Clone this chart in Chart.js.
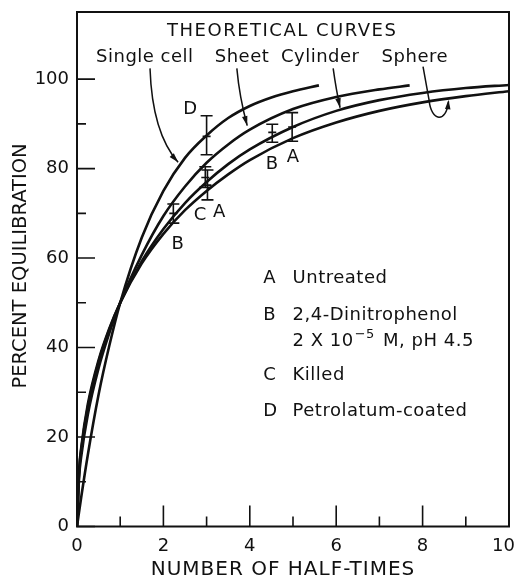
<!DOCTYPE html>
<html>
<head>
<meta charset="utf-8">
<script src="https://cdn.jsdelivr.net/npm/chart.js@4"></script>
<style>
  html, body { margin: 0; padding: 0; background: #fff; }
  canvas { display: block; }
</style>
</head>
<body>
<canvas id="chart" width="516" height="578"></canvas>
<script>
// theoretical curves (x = number of half-times, y = percent)
const singleCellT = [0, 0.1, 0.25, 0.5, 0.75, 1, 1.5, 2, 2.5, 3, 3.5, 4, 4.5, 5, 5.6];
const singleCellPct = [0, 6.7, 16, 29.5, 40.5, 50, 64.6, 75, 82.4, 87.4, 91.3, 94, 95.9, 97.3, 98.6];

const sheetT = [0, 0.05, 0.1, 0.25, 0.5, 0.75, 1, 1.5, 2, 2.5, 3, 3.5, 4, 5, 6, 7, 7.7];
const sheetPct = [0, 11.2, 15.8, 25, 35.4, 43.3, 50, 60.7, 69.4, 76, 81.3, 85.4, 88.7, 93.3, 96, 97.7, 98.6];

const cylinderT = [0, 0.05, 0.1, 0.25, 0.5, 0.75, 1, 1.5, 2, 2.5, 3, 3.5, 4, 5, 6, 7, 8, 9, 10];
const cylinderPct = [0, 12.4, 17.3, 26.7, 36.8, 44.1, 50, 59.3, 66.5, 72.3, 77, 81, 84.3, 89.3, 92.9, 95.3, 96.9, 98, 98.7];

const sphereT = [0, 0.05, 0.1, 0.25, 0.5, 0.75, 1, 1.5, 2, 2.5, 3, 3.5, 4, 5, 6, 7, 8, 9, 10];
const spherePct = [0, 12.8, 17.8, 27.3, 37.2, 44.3, 50, 58.8, 65.4, 70.7, 75, 78.7, 81.9, 86.8, 90.3, 92.9, 94.8, 96.2, 97.3];

// measured points with error bars
const errTag = ["D", "C", "A", "B", "B", "A"];
const errX = [3.0, 2.97, 3.02, 2.23, 4.52, 4.98];
const errMid = [87.2, 78.0, 76.3, 70.0, 88.1, 89.3];
const errLow = [83.1, 75.8, 73.0, 67.8, 85.9, 86.1];
const errHigh = [91.8, 80.4, 79.7, 72.1, 89.9, 92.5];

// axis ticks
const xTicks = [0, 2, 4, 6, 8, 10];
const xMinorTicks = [1, 3, 5, 7, 9];
const yTicks = [0, 20, 40, 60, 80, 100];
const yMinorTicks = [10, 30, 50, 70, 90];

const FONT = "'DejaVu Sans', sans-serif";
const INK = "#111";

const toPoints = (xs, ys) => xs.map((x, i) => ({ x: x, y: ys[i] }));

function curve(label, xs, ys) {
    return {
        label: label,
        data: toPoints(xs, ys),
        showLine: true,
        borderColor: INK,
        borderWidth: 2.6,
        pointRadius: 0,
        cubicInterpolationMode: "monotone"
    };
}

// where the letters sit, in data units
const tagPos = [[2.62, 93.2], [2.85, 69.6], [3.29, 70.3], [2.33, 63.1], [4.51, 81.0], [5.0, 82.6]];

const figurePlugin = {
    id: "figure",
    afterDatasetsDraw(chart) {
        const ctx = chart.ctx;
        const xs = chart.scales.x;
        const ys = chart.scales.y;
        const area = chart.chartArea;
        const px = (x) => xs.getPixelForValue(x);
        const py = (y) => ys.getPixelForValue(y);

        ctx.save();
        ctx.strokeStyle = INK;
        ctx.fillStyle = INK;

        // frame
        ctx.lineWidth = 2;
        ctx.strokeRect(area.left, area.top, area.right - area.left, area.bottom - area.top);

        // inward ticks
        ctx.lineWidth = 1.6;
        ctx.beginPath();
        yTicks.forEach(v => { ctx.moveTo(area.left, py(v)); ctx.lineTo(area.left + 18, py(v)); });
        yMinorTicks.forEach(v => { ctx.moveTo(area.left, py(v)); ctx.lineTo(area.left + 9, py(v)); });
        xTicks.forEach(v => { ctx.moveTo(px(v), area.bottom); ctx.lineTo(px(v), area.bottom - 21); });
        xMinorTicks.forEach(v => { ctx.moveTo(px(v), area.bottom); ctx.lineTo(px(v), area.bottom - 10); });
        ctx.stroke();

        // x tick labels (the last one is pulled in to stay on the canvas)
        ctx.font = "18px " + FONT;
        ctx.textAlign = "center";
        ctx.textBaseline = "middle";
        xTicks.forEach(v => {
            const s = String(v);
            const half = ctx.measureText(s).width / 2;
            ctx.fillText(s, Math.min(px(v), chart.width - 1 - half), area.bottom + 20);
        });

        // error bars
        ctx.lineWidth = 1.6;
        errX.forEach((x, i) => {
            const cx = px(x);
            ctx.beginPath();
            ctx.moveTo(cx, py(errLow[i])); ctx.lineTo(cx, py(errHigh[i]));
            ctx.moveTo(cx - 6, py(errLow[i])); ctx.lineTo(cx + 6, py(errLow[i]));
            ctx.moveTo(cx - 6, py(errHigh[i])); ctx.lineTo(cx + 6, py(errHigh[i]));
            ctx.moveTo(cx - 4, py(errMid[i])); ctx.lineTo(cx + 4, py(errMid[i]));
            ctx.stroke();
        });

        errTag.forEach((t, i) => ctx.fillText(t, px(tagPos[i][0]), py(tagPos[i][1])));

        // header and curve names
        ctx.letterSpacing = "1.5px";
        ctx.fillText("THEORETICAL CURVES", px(4.75), py(110.6));
        ctx.letterSpacing = "0.5px";
        ctx.fillText("Single cell", px(1.57), py(104.8));
        ctx.fillText("Sheet", px(3.82), py(104.8));
        ctx.fillText("Cylinder", px(5.63), py(104.8));
        ctx.fillText("Sphere", px(7.82), py(104.8));
        ctx.letterSpacing = "0px";

        // arrows from the names to the curves
        const head = (x0, y0, x1, y1) => {
            const a = Math.atan2(y1 - y0, x1 - x0);
            ctx.beginPath();
            ctx.moveTo(x1, y1);
            ctx.lineTo(x1 - 10 * Math.cos(a - 0.28), y1 - 10 * Math.sin(a - 0.28));
            ctx.lineTo(x1 - 10 * Math.cos(a + 0.28), y1 - 10 * Math.sin(a + 0.28));
            ctx.closePath();
            ctx.fill();
        };
        const bent = (s, c, e) => {
            ctx.beginPath();
            ctx.moveTo(px(s[0]), py(s[1]));
            ctx.quadraticCurveTo(px(c[0]), py(c[1]), px(e[0]), py(e[1]));
            ctx.stroke();
            head(px(c[0]), py(c[1]), px(e[0]), py(e[1]));
        };
        ctx.lineWidth = 1.5;
        bent([1.69, 102.4], [1.74, 88], [2.34, 81.4]);
        bent([3.70, 102.4], [3.76, 96], [3.94, 89.6]);
        bent([5.93, 102.4], [6.0, 97.5], [6.09, 93.6]);
        ctx.beginPath();
        ctx.moveTo(px(8.01), py(102.8));
        ctx.lineTo(px(8.15), py(95.3));
        ctx.bezierCurveTo(px(8.2), py(90.4), px(8.55), py(90.1), px(8.6), py(95.0));
        ctx.stroke();
        head(px(8.58), py(93.0), px(8.6), py(95.4));

        // key
        ctx.textAlign = "left";
        ctx.letterSpacing = "0.5px";
        const kx0 = px(4.31), kx1 = px(4.99);
        [["A", "Untreated", 55.5], ["B", "2,4-Dinitrophenol", 47.2], ["C", "Killed", 33.9], ["D", "Petrolatum-coated", 25.7]]
            .forEach(r => {
                ctx.fillText(r[0], kx0, py(r[2]));
                ctx.fillText(r[1], kx1, py(r[2]));
            });
        const ry = py(41.3);
        ctx.fillText("2 X 10", kx1, ry);
        const w = ctx.measureText("2 X 10").width;
        ctx.font = "13px " + FONT;
        ctx.fillText("\u22125", kx1 + w + 1, ry - 7);
        const w2 = ctx.measureText("\u22125").width;
        ctx.font = "18px " + FONT;
        ctx.fillText(" M, pH 4.5", kx1 + w + w2 + 3, ry);

        // axis titles
        ctx.font = "20px " + FONT;
        ctx.textAlign = "center";
        ctx.letterSpacing = "1px";
        ctx.fillText("NUMBER OF HALF-TIMES", 283, 570);
        ctx.letterSpacing = "0px";
        ctx.translate(21, 266);
        ctx.rotate(-Math.PI / 2);
        ctx.font = "19.5px " + FONT;
        ctx.fillText("PERCENT EQUILIBRATION", 0, 0);
        ctx.restore();
    }
};

const chart = new Chart(
    document.getElementById("chart"),
    {
        type: "scatter",
        data: {
            datasets: [
                curve("Single cell", singleCellT, singleCellPct),
                curve("Sheet", sheetT, sheetPct),
                curve("Cylinder", cylinderT, cylinderPct),
                curve("Sphere", sphereT, spherePct)
            ]
        },
        options: {
            responsive: false,
            animation: false,
            devicePixelRatio: 1,
            layout: {
                padding: { top: 12, right: 7, left: 0, bottom: 0 }
            },
            plugins: {
                legend: { display: false },
                tooltip: { enabled: false }
            },
            scales: {
                x: {
                    type: "linear",
                    min: 0,
                    max: 10,
                    afterFit: (s) => { s.height = 51.5; s.paddingLeft = 0; s.paddingRight = 0; },
                    afterBuildTicks: (s) => { s.ticks = xTicks.map(v => ({ value: v })); },
                    grid: { display: false },
                    border: { display: false },
                    ticks: { display: false }
                },
                y: {
                    type: "linear",
                    min: 0,
                    max: 115,
                    afterFit: (s) => { s.width = 77; s.paddingTop = 0; s.paddingBottom = 0; },
                    afterBuildTicks: (s) => { s.ticks = yTicks.map(v => ({ value: v })); },
                    grid: { display: false },
                    border: { display: false },
                    ticks: {
                        color: INK,
                        padding: 0,
                        font: { family: FONT, size: 18 }
                    }
                }
            }
        },
        plugins: [figurePlugin]
    }
);
</script>
</body>
</html>
